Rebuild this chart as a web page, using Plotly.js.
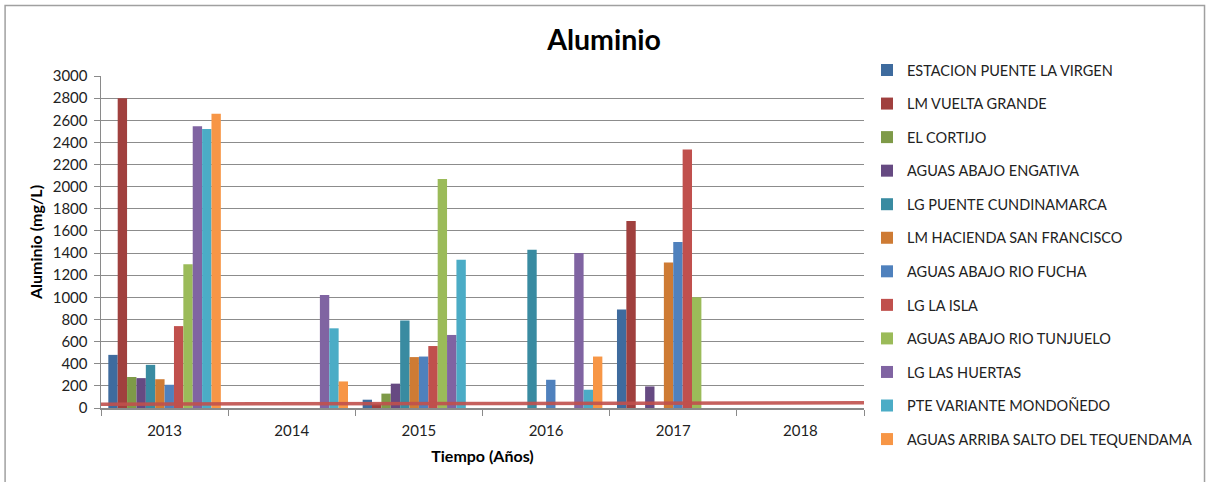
<!DOCTYPE html>
<html>
<head>
<meta charset="utf-8">
<script src="https://cdn.plot.ly/plotly-3.0.1.min.js"></script>
<style>
  html, body { margin: 0; padding: 0; background: #fff; }
  #chart { width: 1208px; height: 482px; }
</style>
</head>
<body>
<div id="chart"></div>
<script>
const years = ["2013", "2014", "2015", "2016", "2017", "2018"];

const seriesNames = [
  "ESTACION PUENTE LA VIRGEN",
  "LM VUELTA GRANDE",
  "EL CORTIJO",
  "AGUAS ABAJO ENGATIVA",
  "LG PUENTE CUNDINAMARCA",
  "LM HACIENDA SAN FRANCISCO",
  "AGUAS ABAJO RIO FUCHA",
  "LG LA ISLA",
  "AGUAS ABAJO RIO TUNJUELO",
  "LG LAS HUERTAS",
  "PTE VARIANTE MONDOÑEDO",
  "AGUAS ARRIBA SALTO DEL TEQUENDAMA"
];

// values per series, one entry per year (2013..2018); null = no bar
const estacionPuenteLaVirgen = [480, null, 75, null, 890, null];
const lmVueltaGrande         = [2800, null, 40, null, 1690, null];
const elCortijo              = [280, null, 130, null, null, null];
const aguasAbajoEngativa     = [270, null, 220, null, 195, null];
const lgPuenteCundinamarca   = [390, null, 790, 1430, null, null];
const lmHaciendaSanFrancisco = [260, null, 460, null, 1315, null];
const aguasAbajoRioFucha     = [210, null, 465, 255, 1500, null];
const lgLaIsla               = [740, null, 560, null, 2335, null];
const aguasAbajoRioTunjuelo  = [1300, null, 2070, null, 1000, null];
const lgLasHuertas           = [2545, 1020, 660, 1400, null, null];
const pteVarianteMondonedo   = [2520, 720, 1340, 165, null, null];
const aguasArribaSalto       = [2660, 240, null, 465, null, null];

// reference limit line (start / end of the x range)
const limitPos = [0, 6];
const limitValues = [35, 47];

const seriesValues = [
  estacionPuenteLaVirgen, lmVueltaGrande, elCortijo, aguasAbajoEngativa,
  lgPuenteCundinamarca, lmHaciendaSanFrancisco, aguasAbajoRioFucha, lgLaIsla,
  aguasAbajoRioTunjuelo, lgLasHuertas, pteVarianteMondonedo, aguasArribaSalto
];

const colors = [
  "#3E6B9E", "#A0403E", "#7E9A48", "#664A82", "#398BA1", "#CE7B34",
  "#4F81BD", "#C0504D", "#9BBB59", "#8064A2", "#4BACC6", "#F79646"
];

const FONT = "Lato, 'Liberation Sans', sans-serif";

const traces = seriesNames.map((name, i) => ({
  type: "bar",
  name: name,
  x: years,
  y: seriesValues[i],
  marker: { color: colors[i], line: { width: 0 } },
  legendgroup: "g" + i,
  hoverinfo: "name+y"
}));

traces.push({
  type: "scatter",
  mode: "lines",
  x: limitPos,
  y: limitValues,
  xaxis: "x2",
  yaxis: "y",
  line: { color: "rgba(192,80,77,0.9)", width: 3.5 },
  showlegend: false,
  hoverinfo: "skip"
});

const layout = {
  width: 1208,
  height: 482,
  margin: { l: 101, r: 343, t: 76, b: 74 },
  paper_bgcolor: "#ffffff",
  plot_bgcolor: "#ffffff",
  font: { family: FONT, size: 15, color: "#222" },
  title: {
    text: "<b>Aluminio</b>",
    font: { family: FONT, size: 28.5, color: "#000" },
    x: 0.5, xref: "container", xanchor: "center",
    y: 0.917, yref: "container", yanchor: "middle"
  },
  barmode: "group",
  bargap: 0.115,
  bargroupgap: 0,
  showlegend: true,
  legend: {
    x: 1.0026, xanchor: "left",
    y: 1.066, yanchor: "top",
    traceorder: "grouped",
    tracegroupgap: 11.7,
    maxheight: 478,
    font: { family: FONT, size: 14.5, color: "#222" },
    bgcolor: "rgba(0,0,0,0)"
  },
  xaxis: {
    type: "category",
    categoryorder: "array",
    categoryarray: years,
    showgrid: false,
    showline: true,
    linecolor: "#8a8a8a",
    linewidth: 1.5,
    ticks: "outside",
    tickson: "boundaries",
    ticklen: 6,
    tickcolor: "#8a8a8a",
    ticklabelstandoff: 8,
    tickfont: { family: FONT, size: 15, color: "#222" },
    title: {
      text: "<b>Tiempo (Años)</b>",
      font: { family: FONT, size: 16, color: "#000" },
      standoff: 13
    },
    zeroline: false
  },
  xaxis2: {
    overlaying: "x",
    range: [0, 6],
    visible: false,
    fixedrange: true
  },
  yaxis: {
    range: [0, 3000],
    dtick: 200,
    showgrid: true,
    gridcolor: "#8c8c8c",
    gridwidth: 1,
    showline: true,
    linecolor: "#8a8a8a",
    linewidth: 1.5,
    ticks: "outside",
    ticklen: 6,
    tickcolor: "#8a8a8a",
    ticklabelstandoff: 3,
    tickfont: { family: FONT, size: 15, color: "#222" },
    zeroline: false,
    title: {
      text: "<b>Aluminio (mg/L)</b>",
      font: { family: FONT, size: 16, color: "#000" },
      standoff: 6
    }
  },
  shapes: [{
    type: "rect",
    xref: "paper", yref: "paper",
    x0: -0.1257, x1: 1.4463, y0: -0.26, y1: 1.2123,
    line: { color: "#a0a0a0", width: 1.5 },
    fillcolor: "rgba(0,0,0,0)",
    layer: "below"
  }]
};

Plotly.newPlot("chart", traces, layout, { displayModeBar: false, staticPlot: true });
</script>
</body>
</html>
